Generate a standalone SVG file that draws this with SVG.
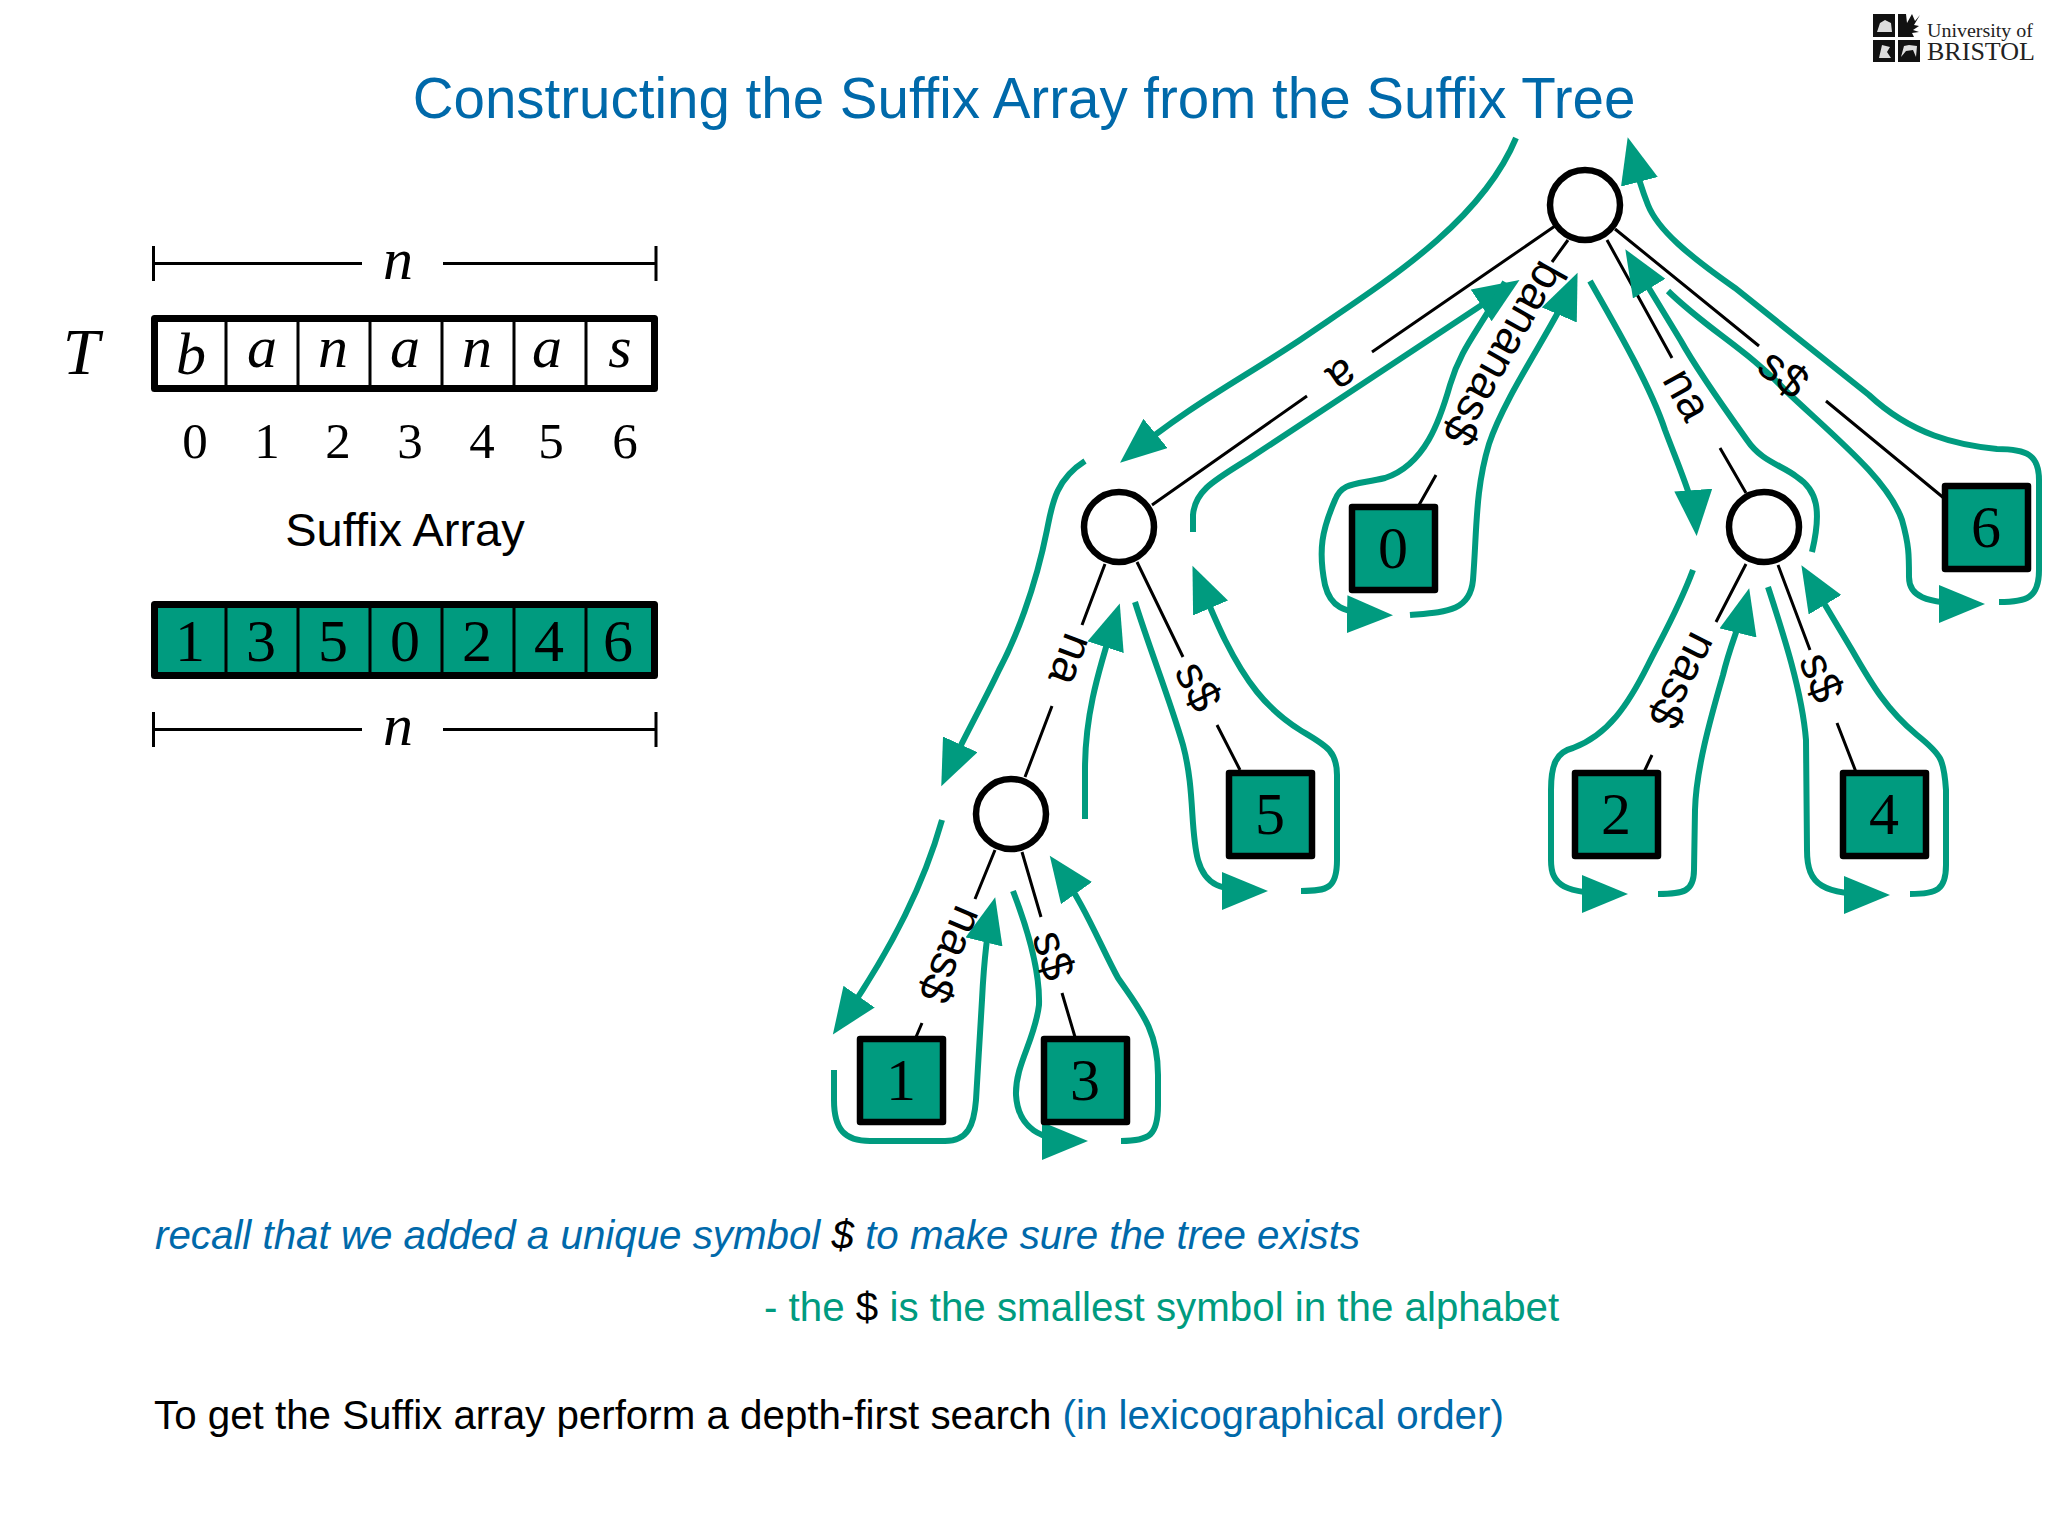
<svg xmlns="http://www.w3.org/2000/svg" width="2048" height="1536" viewBox="0 0 2048 1536">
<style>
text{font-family:"Liberation Sans",Arial,sans-serif}
.cm,.cm text{font-family:"Liberation Serif","Times New Roman",serif;fill:#000;text-anchor:middle}
.it,.it text{font-style:italic}
.edge{stroke:#000;stroke-width:3;fill:none}
.tour{stroke:#009b7f;stroke-width:6;fill:none}
.tip{marker-end:url(#ah)}
.inner{fill:#fff;stroke:#000;stroke-width:6.500}
.leaf{fill:#009b7f;stroke:#000;stroke-width:6.500;stroke-linejoin:round}
.cell{fill:none;stroke:#000;stroke-width:3}
.box{stroke:#000;stroke-width:7;stroke-linejoin:round}
.lab{font-size:46px;text-anchor:middle;fill:#000}
.dim{stroke:#000;stroke-width:3;fill:none}
.blue{fill:#0069aa}.green{fill:#009b7f}.blk{fill:#000}
.num,.num text{font-size:51px}.big,.big text{font-size:60px}
</style>
<defs>
<marker id="ah" markerUnits="userSpaceOnUse" markerWidth="48" markerHeight="38" refX="37" refY="19" orient="auto"><path d="M0,0 L46,19 L0,38 z" fill="#009b7f"/></marker>
</defs>
<rect width="2048" height="1536" fill="#fff"/>
<text id="title" x="1024" y="118" font-size="56.500" text-anchor="middle" class="blue">Constructing the Suffix Array from the Suffix Tree</text>
<g id="logo">
<rect x="1873" y="14" width="22" height="23" fill="#111"/>
<rect x="1873" y="40" width="22" height="22" fill="#111"/><rect x="1898" y="40" width="22" height="22" fill="#111"/>
<path d="M1898,14h8l1,9l5,-9l3,7l5,-6l-6,10l5,1l-6,4l6,2l-7,1l2,4h-16z" fill="#111"/>
<path d="M1877,32 l3,-9 l5,-3 l6,3 l1,9 z M1879,58 l3,-13 l8,2 l-3,5 l4,6 z M1901,57 l3,-11 l5,-1 l8,1 l-1,11 l-3,-7 l-7,1 z" fill="#ddd"/>
<text x="1927" y="37" font-size="19" textLength="106" lengthAdjust="spacingAndGlyphs" style="font-family:'Liberation Serif',serif" fill="#222">University of</text>
<text x="1927" y="60" font-size="26" textLength="108" lengthAdjust="spacingAndGlyphs" style="font-family:'Liberation Serif',serif" fill="#222">BRISTOL</text>
</g>
<g id="dim-top"><path class="dim" d="M153.500,246V281M656,246V281M153.500,263.500H362M443,263.500H656"/><text class="cm it big" x="398" y="279">n</text></g>
<text id="T" class="cm it" font-size="66" x="81" y="374">T</text>
<g id="text-array">
<rect class="box" x="154.500" y="318.500" width="500" height="70" fill="#fff"/>
<path class="cell" d="M226,318V389M298,318V389M370,318V389M442,318V389M514,318V389M586,318V389"/>
<g class="cm it big"><text x="191" y="374">b</text><text x="262" y="367">a</text><text x="333" y="367">n</text><text x="405" y="367">a</text><text x="477" y="367">n</text><text x="547" y="367">a</text><text x="620" y="367">s</text></g>
</g>
<g id="indices" class="cm num"><text x="195" y="458">0</text><text x="267" y="458">1</text><text x="338" y="458">2</text><text x="410" y="458">3</text><text x="482" y="458">4</text><text x="551" y="458">5</text><text x="625" y="458">6</text></g>
<text id="sa-label" x="405" y="546" font-size="47" text-anchor="middle" class="blk">Suffix Array</text>
<g id="suffix-array">
<rect class="box" x="154.500" y="604.500" width="500" height="71" fill="#009b7f"/>
<path class="cell" d="M226,604V676M298,604V676M370,604V676M442,604V676M514,604V676M586,604V676"/>
<g class="cm big"><text x="190" y="661">1</text><text x="261" y="661">3</text><text x="333" y="661">5</text><text x="405" y="661">0</text><text x="477" y="661">2</text><text x="549" y="661">4</text><text x="618" y="661">6</text></g>
</g>
<g id="dim-bottom"><path class="dim" d="M153.500,712V747M656,712V747M153.500,729.500H362M443,729.500H656"/><text class="cm it big" x="398" y="745">n</text></g>

<g id="connectors">
<g id="edges">
<path class="edge" d="M1555,226L1372,352M1307,396L1152,505"/>
<path class="edge" d="M1568,240L1552,262M1436,475L1419,505"/>
<path class="edge" d="M1607,240L1672,358M1720,448L1746,493"/>
<path class="edge" d="M1615,229L1759,346M1826,401L1945,499"/>
<path class="edge" d="M1105,564L1082,625M1052,706L1025,777"/>
<path class="edge" d="M1137,562L1183,657M1217,725L1240,770"/>
<path class="edge" d="M995,850L975,899M922,1023L916,1037"/>
<path class="edge" d="M1022,852L1041,917M1062,993L1075,1037"/>
<path class="edge" d="M1746,564L1716,622M1652,755L1644,772"/>
<path class="edge" d="M1778,565L1810,650M1837,723L1856,772"/>
</g>
<g id="tour">
<path class="tour tip" d="M1516,138C1480,225 1380,285 1300,340C1240,380 1190,405 1127,457"/>
<path class="tour tip" d="M1085,461C1055,480 1052,505 1047,530C1035,590 1015,640 999,670C985,700 960,745 945,778"/>
<path class="tour tip" d="M942,820C925,880 895,945 838,1027"/>
<path class="tour tip" d="M834,1070L834,1100C834,1130 845,1141 870,1141L945,1141C968,1141 974,1125 976,1100L982,1000C984,960 987,930 993,906"/>
<path class="tour tip" d="M1013,891C1030,935 1040,975 1039,1005C1035,1040 1015,1065 1016,1095C1018,1128 1040,1141 1079,1141"/>
<path class="tour tip" d="M1121,1141C1150,1141 1158,1135 1158,1105L1158,1075C1158,1030 1140,1010 1118,978C1100,945 1085,905 1055,863"/>
<path class="tour tip" d="M1085,819L1085,770C1085,720 1095,680 1117,612"/>
<path class="tour tip" d="M1135,602C1150,650 1170,700 1183,745C1195,790 1190,830 1198,860C1205,885 1220,891 1259,891"/>
<path class="tour tip" d="M1301,891C1328,891 1337,888 1337,860L1337,775C1337,750 1325,745 1300,730C1265,708 1245,680 1225,640C1215,620 1205,595 1196,574"/>
<path class="tour tip" d="M1193,532L1193,515C1195,490 1215,480 1250,458L1335,402L1512,285"/>
<path class="tour tip" d="M1505,282C1480,330 1462,345 1450,385C1440,420 1425,465 1385,478C1355,485 1342,482 1335,500C1322,530 1318,550 1325,585C1330,605 1340,614 1384,615"/>
<path class="tour tip" d="M1410,615C1445,612 1470,612 1473,580C1477,530 1475,490 1489,444C1505,395 1555,325 1574,281"/>
<path class="tour tip" d="M1590,281C1615,325 1650,385 1665,430C1680,470 1694,500 1696,527"/>
<path class="tour tip" d="M1693,570C1678,610 1663,635 1648,665C1628,705 1608,735 1573,748C1556,752 1551,765 1551,790L1551,860C1551,885 1563,894 1619,894"/>
<path class="tour tip" d="M1658,894C1683,894 1694,892 1694,870L1695,810C1696,770 1710,720 1723,675C1730,645 1740,625 1747,597"/>
<path class="tour tip" d="M1768,587C1782,630 1802,690 1806,740L1807,850C1807,885 1822,895 1881,895"/>
<path class="tour tip" d="M1910,894C1937,894 1946,890 1946,865L1946,790C1944,760 1942,755 1917,735C1887,710 1872,685 1852,650L1806,573"/>
<path class="tour tip" d="M1812,552C1822,510 1817,490 1797,477C1782,465 1762,462 1747,440C1722,405 1697,370 1681,341L1630,257"/>
<path class="tour tip" d="M1668,291C1708,330 1748,350 1786,391C1838,440 1888,480 1902,520C1909,545 1909,555 1909,577C1909,595 1922,604 1976,604"/>
<path class="tour tip" d="M1999,602C2027,602 2039,598 2039,570L2039,480C2039,455 2027,449 1997,449C1957,445 1912,435 1869,395L1735,288C1688,255 1658,230 1648,205C1638,180 1635,165 1630,146"/>
</g>
</g>
<g id="edge-labels">
<text class="lab" transform="translate(1343,377) rotate(145.300)" y="16">a</text>
<text class="lab" transform="translate(1505,354) rotate(119.300)" y="16">bananas$</text>
<text class="lab" transform="translate(1688,394) rotate(60.900)" y="16">na</text>
<text class="lab" transform="translate(1784,373) rotate(39.100)" y="16">s$</text>
<text class="lab" transform="translate(1072,660) rotate(110.700)" y="16">na</text>
<text class="lab" transform="translate(1199,686) rotate(63.600)" y="16">s$</text>
<text class="lab" transform="translate(952,955) rotate(113)" y="16">nas$</text>
<text class="lab" transform="translate(1054,955) rotate(74)" y="16">s$</text>
<text class="lab" transform="translate(1684,681) rotate(116.600)" y="16">nas$</text>
<text class="lab" transform="translate(1822,677) rotate(69.300)" y="16">s$</text>
</g>
<g id="node-root"><circle class="inner" cx="1585" cy="205" r="35"/></g>
<g id="node-a"><circle class="inner" cx="1119" cy="527" r="35"/></g>
<g id="node-na"><circle class="inner" cx="1764" cy="527" r="35"/></g>
<g id="node-ana"><circle class="inner" cx="1011" cy="814" r="35"/></g>
<g id="leaf-0"><rect class="leaf" x="1352" y="507" width="83" height="83"/><text class="cm big" x="1393" y="568">0</text></g>
<g id="leaf-6"><rect class="leaf" x="1945" y="486" width="83" height="83"/><text class="cm big" x="1986" y="547">6</text></g>
<g id="leaf-5"><rect class="leaf" x="1229" y="773" width="83" height="83"/><text class="cm big" x="1270" y="834">5</text></g>
<g id="leaf-2"><rect class="leaf" x="1575" y="773" width="83" height="83"/><text class="cm big" x="1616" y="834">2</text></g>
<g id="leaf-4"><rect class="leaf" x="1843" y="773" width="83" height="83"/><text class="cm big" x="1884" y="834">4</text></g>
<g id="leaf-1"><rect class="leaf" x="860" y="1039" width="83" height="83"/><text class="cm big" x="901" y="1100">1</text></g>
<g id="leaf-3"><rect class="leaf" x="1044" y="1039" width="83" height="83"/><text class="cm big" x="1085" y="1100">3</text></g>

<text id="note1" x="155" y="1249" font-size="40.300" font-style="italic" class="blue">recall that we added a unique symbol <tspan class="blk">$</tspan> to make sure the tree exists</text>
<text id="note2" x="764" y="1321" font-size="40.300" class="green">- the <tspan class="blk">$</tspan> is the smallest symbol in the alphabet</text>
<text id="note3" x="154" y="1429" font-size="40.300" class="blk">To get the Suffix array perform a depth-first search <tspan class="blue">(in lexicographical order)</tspan></text>
</svg>
